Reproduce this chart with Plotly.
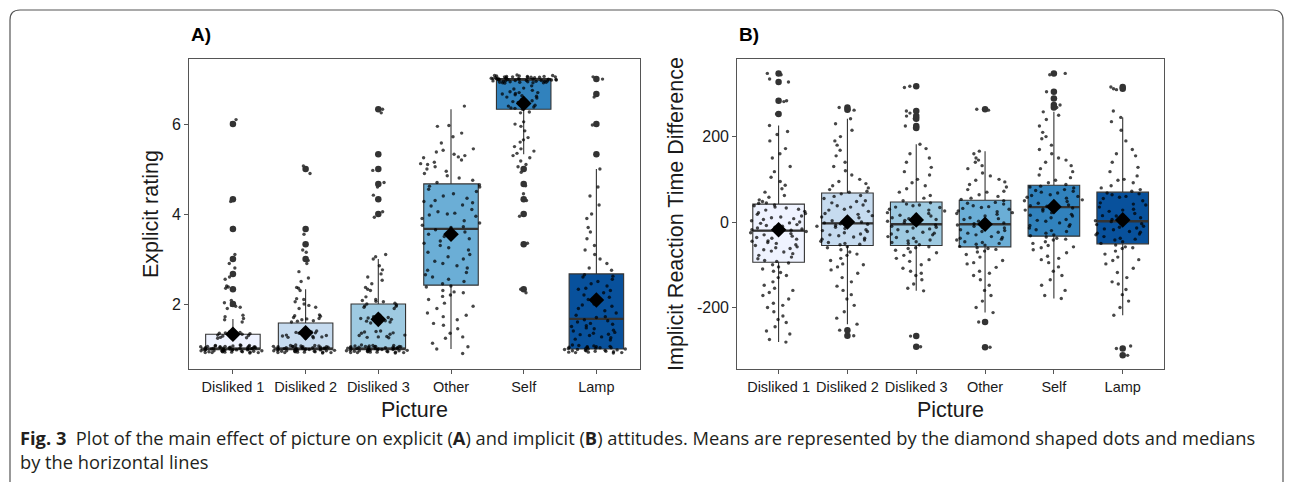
import plotly.graph_objects as go

W, H = 1293, 482

categories = ["Disliked 1", "Disliked 2", "Disliked 3", "Other", "Self", "Lamp"]
box_colors = ["#EFF3FF", "#C6DBEF", "#9ECAE1", "#6BAED6", "#3182BD", "#08519C"]

# ---------- Panel A: explicit rating ----------
A_q1 = [1.0, 1.0, 1.0, 2.42, 6.33, 1.0]
A_median = [1.0, 1.0, 1.0, 3.67, 7.0, 1.67]
A_q3 = [1.33, 1.58, 2.0, 4.67, 7.0, 2.67]
A_lower = [1.0, 1.0, 1.0, 1.0, 5.33, 1.0]
A_upper = [1.67, 2.33, 3.0, 6.33, 7.0, 5.0]
A_mean = [1.33, 1.36, 1.66, 3.55, 6.46, 2.09]
A_outliers = [
    [2.0, 2.33, 2.67, 3.0, 3.67, 4.33, 6.0],
    [3.0, 3.33, 3.67, 5.0],
    [4.0, 4.33, 4.67, 5.0, 5.33, 6.33],
    [],
    [5.0, 4.67, 4.33, 4.0, 3.33, 2.33],
    [5.33, 6.0, 6.67, 7.0],
]
A_ticks = [2, 4, 6]

A_D1 = [0.91, 0.93, 0.95, 0.97, 0.99, 1.01, 1.03, 1.05, 1.07, 1.09, 0.92, 0.94, 0.96, 0.98, 1.0, 1.02, 1.04, 1.06,
        1.08, 0.93, 0.95, 0.97, 0.99, 1.01, 1.03, 1.05, 0.92, 0.96, 1.0, 1.04, 1.08, 0.94, 0.98, 1.02, 1.06, 0.93,
        0.97, 1.01, 1.05, 0.95, 0.99, 1.03, 1.07, 0.96, 1.0, 1.04, 0.92, 1.06, 0.98, 1.02, 0.94, 1.08, 1.0, 0.97, 1.03,
        1.24, 1.27, 1.29, 1.31, 1.34, 1.36, 1.38, 1.26, 1.3, 1.33, 1.37, 1.4, 1.25, 1.28, 1.35,
        1.6, 1.65, 1.68, 1.72, 1.75, 1.9, 1.93, 1.95, 1.97, 2.03, 2.08, 2.35, 2.38, 2.4, 2.55, 2.6, 2.8, 2.9, 3.0,
        3.1, 3.7, 4.28, 6.03, 6.1]
A_D2 = [0.91, 0.93, 0.95, 0.97, 0.99, 1.01, 1.03, 1.05, 1.07, 1.09, 0.92, 0.94, 0.96, 0.98, 1.0, 1.02, 1.04, 1.06,
        1.08, 0.93, 0.95, 0.97, 0.99, 1.01, 1.03, 1.05, 0.92, 0.96, 1.0, 1.04, 1.08, 0.94, 0.98, 1.02, 1.06, 0.93,
        0.97, 1.01, 1.05, 0.95, 0.99, 1.03, 1.07, 0.96, 1.0, 1.04, 0.92, 1.06, 0.98, 1.02,
        1.24, 1.27, 1.29, 1.31, 1.34, 1.36, 1.38, 1.26, 1.3, 1.33, 1.37, 1.4, 1.25, 1.28, 1.35,
        1.6, 1.63, 1.67, 1.7, 1.73, 1.76, 1.62, 1.68, 1.74, 1.65,
        1.9, 1.93, 1.97, 2.0, 2.05, 2.1, 2.12,
        2.3, 2.35, 2.37, 2.5, 2.58, 2.72, 2.9, 2.97, 3.15, 3.2, 3.55, 4.9, 5.07]
A_D3 = [0.91, 0.93, 0.95, 0.97, 0.99, 1.01, 1.03, 1.05, 1.07, 1.09, 0.92, 0.94, 0.96, 0.98, 1.0, 1.02, 1.04, 1.06,
        1.08, 0.93, 0.95, 0.97, 0.99, 1.01, 1.03, 1.05, 0.92, 0.96, 1.0, 1.04, 1.08, 0.94, 0.98, 1.02, 1.06, 0.93,
        0.97, 1.01, 1.05, 0.95, 0.99, 1.03, 1.07, 0.96, 1.0, 1.04, 0.92, 1.06,
        1.25, 1.28, 1.3, 1.33, 1.36, 1.39, 1.27, 1.31, 1.35, 1.38, 1.26, 1.4,
        1.58, 1.6, 1.63, 1.66, 1.68, 1.7, 1.72, 1.75, 1.62, 1.69,
        1.9, 1.93, 1.95, 1.98, 2.0, 2.02, 2.05, 2.08, 1.96, 2.06,
        2.1, 2.16, 2.3, 2.33, 2.37, 2.45, 2.53, 2.6, 2.67, 2.76, 2.85, 3.0, 3.05, 3.1,
        3.93, 3.98, 4.05, 4.42, 4.6, 4.7, 4.97, 5.33, 6.25, 6.33]
A_Other = [6.4, 5.97, 5.95, 5.8, 5.72, 5.58, 5.45, 5.42, 5.38, 5.33, 5.3, 5.27, 5.25, 5.2, 5.15, 5.12, 5.1, 5.05,
           5.0, 4.95, 4.9, 4.85, 4.8, 4.75, 4.7,
           4.65, 4.6, 4.55, 4.5, 4.45, 4.4, 4.35, 4.3, 4.25, 4.2, 4.18, 4.1, 4.05, 4.0, 3.98, 3.95, 3.9, 3.85, 3.8,
           3.75, 3.72, 3.7, 4.02, 4.28, 4.62,
           3.65, 3.6, 3.55, 3.5, 3.45, 3.4, 3.35, 3.3, 3.25, 3.2, 3.15, 3.1, 3.05, 3.0, 2.95, 2.9, 2.85, 2.8, 2.75,
           2.7, 2.65, 2.6, 2.55, 2.5, 2.45,
           2.4, 2.38, 2.3, 2.27, 2.25, 2.2, 2.17, 2.1, 2.02, 1.95, 1.9, 1.8, 1.75, 1.72, 1.65, 1.57, 1.53, 1.45, 1.35,
           1.27, 1.24, 1.13, 1.05, 1.0, 0.9]
A_Self = [6.91, 6.93, 6.95, 6.97, 6.99, 7.01, 7.03, 7.05, 7.07, 7.09, 6.92, 6.94, 6.96, 6.98, 7.0, 7.02, 7.04,
          7.06, 7.08, 6.93, 6.95, 6.97, 6.99, 7.01, 7.03, 7.05, 6.92, 6.96, 7.0, 7.04, 7.08, 6.94, 6.98, 7.02, 7.06,
          6.93, 6.97, 7.01, 7.05, 6.95, 6.99, 7.03, 7.07, 6.96, 7.0, 7.04, 6.92, 7.06, 6.98, 7.02,
          6.35, 6.4, 6.45, 6.5, 6.55, 6.6, 6.62, 6.65, 6.67, 6.7, 6.72, 6.75, 6.8, 6.85, 6.38, 6.48, 6.58, 6.68,
          6.78, 6.42, 6.52, 6.63, 6.7, 6.33, 6.36,
          6.27, 6.25, 6.05, 6.0, 5.95, 5.85, 5.7, 5.65, 5.6, 5.5, 5.45, 5.4, 5.35, 5.3, 5.25, 5.18, 5.1, 5.05, 4.93,
          4.63, 4.45, 4.3, 4.0, 3.95, 3.35, 2.33, 2.25]
A_Lamp = [0.91, 0.93, 0.95, 0.97, 0.99, 1.01, 1.03, 1.05, 1.07, 1.09, 0.92, 0.94, 0.96, 0.98, 1.0, 1.02, 1.04, 1.06,
          1.08, 0.93, 0.95, 0.97, 0.99, 1.01, 1.03, 1.05, 0.92, 0.96, 1.0, 1.04,
          1.2, 1.25, 1.3, 1.33, 1.35, 1.4, 1.45, 1.5, 1.55, 1.6, 1.63, 1.27, 1.37, 1.47, 1.57, 1.65, 1.22, 1.32,
          1.42, 1.52,
          1.7, 1.75, 1.8, 1.85, 1.9, 1.95, 2.0, 2.05, 2.1, 2.15, 2.2, 2.25, 2.3, 2.35, 2.4, 2.45, 2.5, 2.55, 2.6,
          2.65, 1.72, 1.98, 2.33, 2.62,
          2.75, 2.8, 2.9, 3.0, 3.1, 3.2, 3.3, 3.45, 3.6, 3.7, 3.9, 4.0, 4.2, 4.4, 4.6, 5.0, 5.35, 5.98, 6.6, 7.05, 7.0]
A_points = [A_D1, A_D2, A_D3, A_Other, A_Self, A_Lamp]

# ---------- Panel B: implicit reaction time difference ----------
B_q1 = [-94, -55, -55, -58, -33, -51]
B_median = [-20, -3, -5, -5, 35, 2]
B_q3 = [42, 68, 47, 51, 86, 70]
B_lower = [-281, -239, -161, -212, -179, -218]
B_upper = [226, 242, 182, 166, 258, 245]
B_mean = [-18, 0, 5, -5, 36, 5]
B_outliers = [
    [348, 328, 284, 253],
    [268, 263, -253, -266],
    [318, 260, 248, 242, 225, 220, -267, -292],
    [264, -234, -293],
    [348, 305, 289, 274, 268],
    [316, 312, -296, -312],
]
B_ticks = [-200, 0, 200]
B_ticklabels = ["-200", "0", "200"]

B_D1 = [348, 345, 328, 284, 253, 335, 282, 226, 212, 205, 190, 172, 160, 150, 130, 118, 105, 95, 86, 78, 70, 62, 58,
        52, 48, 45, 44,
        40, 35, 30, 28, 25, 20, 18, 14, 10, 6, 3, 0, -3, -6, -8, -10, -12, -14, -16, -18, 38, 22, 12, -2, 8, -19, 33,
        -22, -25, -28, -30, -33, -36, -40, -44, -48, -50, -53, -55, -58, -62, -65, -68, -70, -74, -78, -82, -86, -90,
        -92, -27, -45, -60, -38,
        -96, -100, -105, -110, -118, -125, -130, -140, -148, -155, -165, -172, -180, -190, -195, -200, -210, -220,
        -228, -235, -245, -255, -262, -275, -281, -115, -160]
B_D2 = [268, 263, 262, 242, 230, 215, 200, 190, 180, 168, 155, 140, 130, 120, 110, 100, 95, 90, 85, 80, 76, 72, 70,
        66, 60, 55, 50, 45, 40, 35, 30, 25, 20, 15, 10, 5, 0, -2, 62, 48, 28, 12, 3, 38, 18,
        -5, -8, -12, -15, -18, -22, -25, -28, -32, -35, -38, -42, -45, -48, -50, -53, -10, -20, -30, -40, -52, -4,
        -58, -60, -65, -70, -78, -85, -90, -98, -105, -112, -120, -130, -140, -150, -160, -170, -180, -195, -210,
        -225, -239, -253, -266, -100, -75]
B_D3 = [318, 315, 260, 255, 248, 242, 225, 220, 182, 172, 160, 150, 140, 128, 118, 110, 100, 92, 85, 78, 70, 62,
        56, 50,
        45, 42, 38, 34, 30, 26, 22, 18, 14, 10, 6, 2, -1, -3, 40, 28, 16, 4, 35, 20, 8,
        -7, -10, -14, -18, -22, -26, -30, -34, -38, -42, -46, -50, -53, -12, -24, -36, -48, -16, -28, -44,
        -58, -62, -66, -72, -78, -85, -92, -100, -108, -115, -125, -135, -145, -155, -161, -60, -70, -88, -120,
        -267, -292]
B_Other = [264, 262, 166, 160, 150, 140, 132, 125, 115, 108, 100, 94, 88, 82, 76, 70, 64, 60, 56, 53, 145, 98, 72,
           50, 46, 42, 38, 34, 30, 26, 22, 18, 14, 10, 6, 2, -2, -4, 44, 32, 20, 8, 36, 24,
           -7, -10, -14, -18, -22, -26, -30, -34, -38, -42, -46, -50, -54, -57, -12, -24, -36, -48, -20, -40, -52,
           -60, -64, -70, -76, -82, -90, -98, -106, -115, -125, -135, -148, -160, -172, -185, -200, -212, -234,
           -293, -62, -95, -120, -68]
B_Self = [348, 345, 305, 289, 274, 268, 258, 250, 240, 225, 210, 195, 180, 170, 160, 150, 140, 132, 125, 118, 110,
          104, 98, 92, 88, 200, 145,
          84, 80, 76, 72, 68, 64, 60, 56, 52, 48, 44, 40, 37, 82, 70, 58, 46, 38, 74, 62, 50,
          33, 30, 26, 22, 18, 14, 10, 6, 2, -2, -6, -10, -14, -18, -22, -26, -30, -32, 28, 16, 4, -8, -20,
          -35, -38, -42, -46, -50, -55, -60, -65, -72, -80, -88, -95, -105, -115, -125, -135, -148, -160, -172,
          -179, -40, -58, -85]
B_Lamp = [316, 312, 310, 245, 235, 215, 190, 170, 155, 140, 128, 118, 108, 100, 92, 85, 80, 76, 72, 260, 160, 98,
          68, 64, 60, 55, 50, 45, 40, 35, 30, 25, 20, 15, 10, 6, 3, 58, 42, 28, 14, 66,
          1, -2, -6, -10, -14, -18, -22, -26, -30, -34, -38, -42, -46, -50, -4, -16, -28, -40, -12, -24,
          -54, -58, -62, -68, -75, -82, -90, -98, -108, -118, -130, -145, -158, -170, -185, -200, -218, -296, -312,
          -290, -60, -88, -140]
B_points = [B_D1, B_D2, B_D3, B_Other, B_Self, B_Lamp]

# ---------- layout helpers (pixel -> paper) ----------
def px(x):
    return x / W


def py(y):
    return 1 - y / H


LINE = "#333333"
fig = go.Figure()


def add_panel(xa, q1, med, q3, lo, up, mean, outl, pts):
    xr = "x" if xa == 1 else "x2"
    yr = "y" if xa == 1 else "y2"
    for i, c in enumerate(categories):
        fig.add_trace(go.Box(
            x=[c], q1=[q1[i]], median=[med[i]], q3=[q3[i]], lowerfence=[lo[i]], upperfence=[up[i]],
            boxpoints=False, width=0.75, whiskerwidth=0, fillcolor=box_colors[i],
            line=dict(color=LINE, width=1.1), xaxis=xr, yaxis=yr, showlegend=False, hoverinfo="skip"))
        # thicker median line
        fig.add_trace(go.Box(
            x=[c], q1=[med[i]], median=[med[i]], q3=[med[i]], lowerfence=[med[i]], upperfence=[med[i]],
            boxpoints=False, width=0.75, whiskerwidth=0, fillcolor="rgba(0,0,0,0)",
            line=dict(color=LINE, width=2.4), xaxis=xr, yaxis=yr, showlegend=False, hoverinfo="skip"))
    # jittered raw points
    for i, c in enumerate(categories):
        fig.add_trace(go.Box(
            x=[c] * len(pts[i]), y=pts[i], boxpoints="all", jitter=1, pointpos=0, width=0.9,
            fillcolor="rgba(0,0,0,0)", line=dict(color="rgba(0,0,0,0)", width=0),
            marker=dict(size=3.4, color="rgba(0,0,0,0.72)", line=dict(width=0)),
            xaxis=xr, yaxis=yr, showlegend=False, hoverinfo="skip"))
    # outliers
    ox, oy = [], []
    for i, c in enumerate(categories):
        ox += [c] * len(outl[i])
        oy += outl[i]
    fig.add_trace(go.Scatter(x=ox, y=oy, mode="markers", marker=dict(size=6.5, color=LINE),
                             xaxis=xr, yaxis=yr, showlegend=False, hoverinfo="skip"))
    # means
    fig.add_trace(go.Scatter(x=categories, y=mean, mode="markers",
                             marker=dict(symbol="diamond", size=12, color="black"),
                             xaxis=xr, yaxis=yr, showlegend=False, hoverinfo="skip"))


add_panel(1, A_q1, A_median, A_q3, A_lower, A_upper, A_mean, A_outliers, A_points)
add_panel(2, B_q1, B_median, B_q3, B_lower, B_upper, B_mean, B_outliers, B_points)

ytop, ybot = py(59.3), py(369)
axis_common = dict(showline=True, mirror=True, linecolor="#555555", linewidth=1.2, ticks="outside",
                   ticklen=4, tickcolor="#555555", tickwidth=1.2, showgrid=False, zeroline=False)
fig.update_layout(
    width=W, height=H, margin=dict(l=0, r=0, t=0, b=0), autosize=False,
    paper_bgcolor="white", plot_bgcolor="white", boxmode="overlay",
    font=dict(family="Liberation Sans, Arial, sans-serif", color="#1a1a1a"),
    xaxis=dict(domain=[px(189.3), px(640)], type="category", categoryorder="array",
               categoryarray=categories, range=[-0.6, 5.6], anchor="y",
               tickfont=dict(size=14.5, color="#1a1a1a"), **axis_common),
    yaxis=dict(domain=[ybot, ytop], range=[0.556, 7.44], tickvals=A_ticks, anchor="x",
               tickfont=dict(size=16, color="#1a1a1a"), **axis_common),
    xaxis2=dict(domain=[px(737.3), px(1164)], type="category", categoryorder="array",
                categoryarray=categories, range=[-0.6, 5.6], anchor="y2",
                tickfont=dict(size=14.5, color="#1a1a1a"), **axis_common),
    yaxis2=dict(domain=[ybot, ytop], range=[-344, 381], tickvals=B_ticks, ticktext=B_ticklabels, anchor="x2",
                tickfont=dict(size=16, color="#1a1a1a"), **axis_common),
)


def note(x, y, text, size, xanchor="center", angle=0, family=None, color="#1a1a1a"):
    f = dict(size=size, color=color)
    if family:
        f["family"] = family
    return dict(x=px(x), y=py(y), xref="paper", yref="paper", text=text, showarrow=False,
                xanchor=xanchor, yanchor="middle", textangle=angle, font=f)


cap_family = "Open Sans, Noto Sans, sans-serif"
ann = [
    note(189, 35, "<b>A)</b>", 19, "left", color="black"),
    note(737, 35, "<b>B)</b>", 19, "left", color="black"),
    note(151, 214, "Explicit rating", 21.5, angle=-90),
    note(676, 214, "Implicit Reaction Time Difference", 21.5, angle=-90),
    note(414.6, 410, "Picture", 21.5),
    note(950.6, 410, "Picture", 21.5),
    note(18, 437, "<b>Fig. 3</b>  Plot of the main effect of picture on explicit (<b>A</b>) and implicit "
                  "(<b>B</b>) attitudes. Means are represented by the diamond shaped dots and medians",
         18.3, "left", family=cap_family, color="#231f20"),
    note(18, 461, "by the horizontal lines", 18.3, "left", family=cap_family, color="#231f20"),
]
fig.update_layout(annotations=ann)

# rounded frame around the figure (open at the bottom)
r = 10
path = (f"M {px(10)} {py(500)} L {px(10)} {py(10 + r)} Q {px(10)} {py(10)} {px(10 + r)} {py(10)} "
        f"L {px(1283 - r)} {py(10)} Q {px(1283)} {py(10)} {px(1283)} {py(10 + r)} L {px(1283)} {py(500)}")
fig.add_shape(type="path", path=path, xref="paper", yref="paper", line=dict(color="#555555", width=1.2))

fig.write_html("out.html", config={"displayModeBar": False},
               post_script="document.body.style.margin='0px';document.body.style.overflow='hidden';")
